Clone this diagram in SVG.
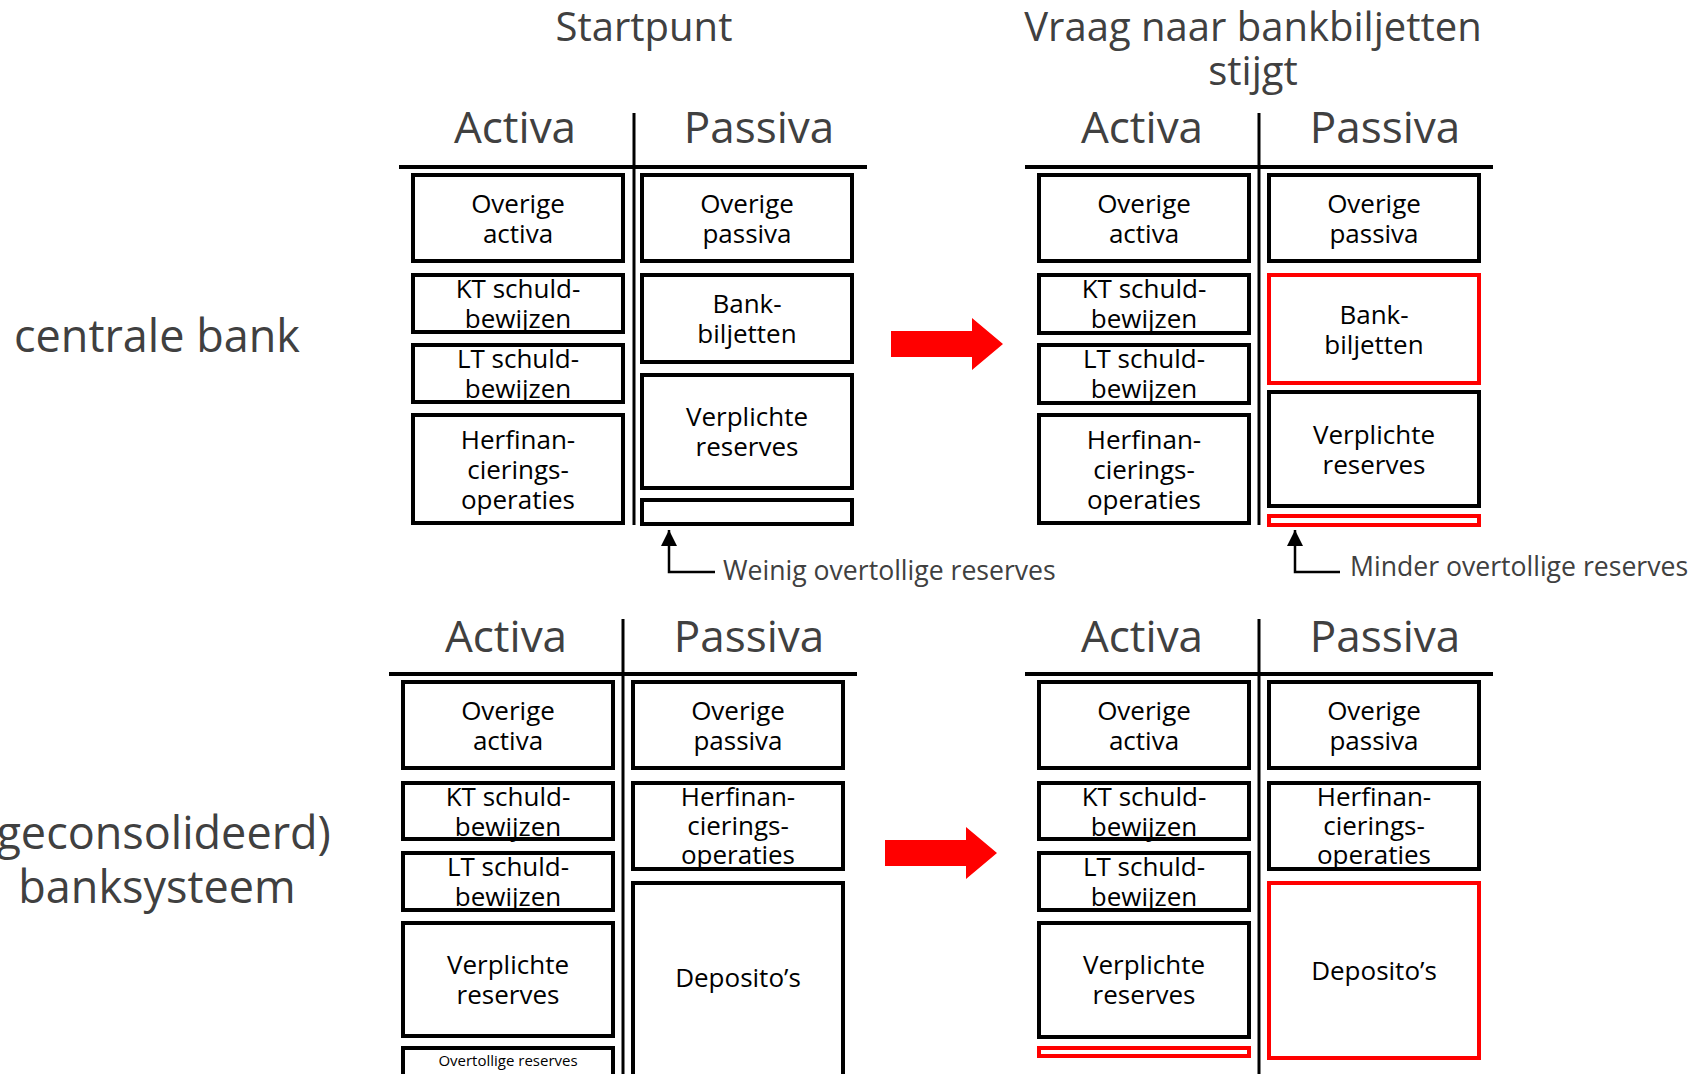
<svg xmlns="http://www.w3.org/2000/svg" width="1688" height="1074" viewBox="0 0 1688 1074">
<defs>
<style>
text{font-family:"Open Sans","Noto Sans","DejaVu Sans",sans-serif;}
.box{fill:#fff;stroke:#000;stroke-width:4;}
.red{fill:#fff;stroke:#ff0000;stroke-width:4;}
.bt{font-size:26px;fill:#000;text-anchor:middle;}
.hd{font-size:44px;fill:#404040;text-anchor:middle;}
.tt{font-size:40px;fill:#404040;text-anchor:middle;}
.lb{font-size:45px;fill:#404040;text-anchor:middle;}
.nt{font-size:26.6px;fill:#404040;}
.sm{font-size:15px;fill:#000;text-anchor:middle;}
.vl{stroke:#000;stroke-width:3;}
.hl{stroke:#000;stroke-width:4;}
.cn{fill:none;stroke:#000;stroke-width:2.5;}
.ra{fill:#ff0000;}
</style>
<marker id="ah" viewBox="0 0 16 16" refX="16" refY="8" markerWidth="16" markerHeight="16" markerUnits="userSpaceOnUse" orient="auto"><path d="M0,0 L16,8 L0,16 z" fill="#000"/></marker>
</defs>
<rect width="1688" height="1074" fill="#fff"/>

<g id="titles">
<text class="tt" x="644" y="41">Startpunt</text>
<text class="tt" x="1253" y="41">Vraag naar bankbiljetten</text>
<text class="tt" x="1253" y="85">stijgt</text>
<text class="lb" x="157" y="352">centrale bank</text>
<text class="lb" x="157" y="849">(geconsolideerd)</text>
<text class="lb" x="157" y="903">banksysteem</text>
</g>

<g id="frame-tl">
<text class="hd" x="515" y="143">Activa</text>
<text class="hd" x="759" y="143">Passiva</text>
<line class="vl" x1="634" y1="113" x2="634" y2="525"/>
<line class="hl" x1="399" y1="167" x2="867" y2="167"/>
</g>
<g id="frame-tr">
<text class="hd" x="1142" y="143">Activa</text>
<text class="hd" x="1385" y="143">Passiva</text>
<line class="vl" x1="1259" y1="113" x2="1259" y2="525"/>
<line class="hl" x1="1025" y1="167" x2="1493" y2="167"/>
</g>
<g id="frame-bl">
<text class="hd" x="506" y="652">Activa</text>
<text class="hd" x="749" y="652">Passiva</text>
<line class="vl" x1="623" y1="619" x2="623" y2="1074"/>
<line class="hl" x1="389" y1="674" x2="857" y2="674"/>
</g>
<g id="frame-br">
<text class="hd" x="1142" y="652">Activa</text>
<text class="hd" x="1385" y="652">Passiva</text>
<line class="vl" x1="1259" y1="619" x2="1259" y2="1074"/>
<line class="hl" x1="1025" y1="674" x2="1493" y2="674"/>
</g>

<!-- Top-left: centrale bank, startpunt -->
<g id="tl-overige-activa"><rect class="box" x="413" y="175" width="210" height="86"/><text class="bt" x="518" y="212.5">Overige</text><text class="bt" x="518" y="242.5">activa</text></g>
<g id="tl-kt"><rect class="box" x="413" y="275" width="210" height="57"/><text class="bt" x="518" y="298">KT schuld-</text><text class="bt" x="518" y="328">bewijzen</text></g>
<g id="tl-lt"><rect class="box" x="413" y="345" width="210" height="57"/><text class="bt" x="518" y="368">LT schuld-</text><text class="bt" x="518" y="398">bewijzen</text></g>
<g id="tl-herfin"><rect class="box" x="413" y="415" width="210" height="108"/><text class="bt" x="518" y="448.5">Herfinan-</text><text class="bt" x="518" y="478.5">cierings-</text><text class="bt" x="518" y="508.5">operaties</text></g>
<g id="tl-overige-passiva"><rect class="box" x="642" y="175" width="210" height="86"/><text class="bt" x="747" y="212.5">Overige</text><text class="bt" x="747" y="242.5">passiva</text></g>
<g id="tl-bankbiljetten"><rect class="box" x="642" y="275" width="210" height="87"/><text class="bt" x="747" y="313">Bank-</text><text class="bt" x="747" y="343">biljetten</text></g>
<g id="tl-verplichte"><rect class="box" x="642" y="375" width="210" height="113"/><text class="bt" x="747" y="426">Verplichte</text><text class="bt" x="747" y="456">reserves</text></g>
<g id="tl-overtollig"><rect class="box" x="642" y="500" width="210" height="24"/></g>

<!-- Top-right -->
<g id="tr-overige-activa"><rect class="box" x="1039" y="175" width="210" height="86"/><text class="bt" x="1144" y="212.5">Overige</text><text class="bt" x="1144" y="242.5">activa</text></g>
<g id="tr-kt"><rect class="box" x="1039" y="275" width="210" height="58"/><text class="bt" x="1144" y="298">KT schuld-</text><text class="bt" x="1144" y="328">bewijzen</text></g>
<g id="tr-lt"><rect class="box" x="1039" y="345" width="210" height="58"/><text class="bt" x="1144" y="368">LT schuld-</text><text class="bt" x="1144" y="398">bewijzen</text></g>
<g id="tr-herfin"><rect class="box" x="1039" y="415" width="210" height="108"/><text class="bt" x="1144" y="448.5">Herfinan-</text><text class="bt" x="1144" y="478.5">cierings-</text><text class="bt" x="1144" y="508.5">operaties</text></g>
<g id="tr-overige-passiva"><rect class="box" x="1269" y="175" width="210" height="86"/><text class="bt" x="1374" y="212.5">Overige</text><text class="bt" x="1374" y="242.5">passiva</text></g>
<g id="tr-bankbiljetten"><rect class="red" x="1269" y="275" width="210" height="108"/><text class="bt" x="1374" y="323.5">Bank-</text><text class="bt" x="1374" y="353.5">biljetten</text></g>
<g id="tr-verplichte"><rect class="box" x="1269" y="392" width="210" height="114"/><text class="bt" x="1374" y="443.5">Verplichte</text><text class="bt" x="1374" y="473.5">reserves</text></g>
<g id="tr-overtollig"><rect class="red" x="1269" y="516" width="210" height="9"/></g>

<!-- Bottom-left -->
<g id="bl-overige-activa"><rect class="box" x="403" y="682" width="210" height="86"/><text class="bt" x="508" y="719.5">Overige</text><text class="bt" x="508" y="749.5">activa</text></g>
<g id="bl-kt"><rect class="box" x="403" y="783" width="210" height="56"/><text class="bt" x="508" y="805.5">KT schuld-</text><text class="bt" x="508" y="835.5">bewijzen</text></g>
<g id="bl-lt"><rect class="box" x="403" y="853" width="210" height="57"/><text class="bt" x="508" y="876">LT schuld-</text><text class="bt" x="508" y="906">bewijzen</text></g>
<g id="bl-verplichte"><rect class="box" x="403" y="923" width="210" height="113"/><text class="bt" x="508" y="974">Verplichte</text><text class="bt" x="508" y="1004">reserves</text></g>
<g id="bl-overtollig"><rect class="box" x="403" y="1048" width="210" height="40"/><text class="sm" x="508" y="1066">Overtollige reserves</text></g>
<g id="bl-overige-passiva"><rect class="box" x="633" y="682" width="210" height="86"/><text class="bt" x="738" y="719.5">Overige</text><text class="bt" x="738" y="749.5">passiva</text></g>
<g id="bl-herfin"><rect class="box" x="633" y="783" width="210" height="86"/><text class="bt" x="738" y="806">Herfinan-</text><text class="bt" x="738" y="835">cierings-</text><text class="bt" x="738" y="864">operaties</text></g>
<g id="bl-deposito"><rect class="box" x="633" y="883" width="210" height="205"/><text class="bt" x="738" y="987">Deposito’s</text></g>

<!-- Bottom-right -->
<g id="br-overige-activa"><rect class="box" x="1039" y="682" width="210" height="86"/><text class="bt" x="1144" y="719.5">Overige</text><text class="bt" x="1144" y="749.5">activa</text></g>
<g id="br-kt"><rect class="box" x="1039" y="783" width="210" height="56"/><text class="bt" x="1144" y="805.5">KT schuld-</text><text class="bt" x="1144" y="835.5">bewijzen</text></g>
<g id="br-lt"><rect class="box" x="1039" y="853" width="210" height="57"/><text class="bt" x="1144" y="876">LT schuld-</text><text class="bt" x="1144" y="906">bewijzen</text></g>
<g id="br-verplichte"><rect class="box" x="1039" y="923" width="210" height="114"/><text class="bt" x="1144" y="974">Verplichte</text><text class="bt" x="1144" y="1004">reserves</text></g>
<g id="br-overtollig"><rect class="red" x="1039" y="1048" width="210" height="8"/></g>
<g id="br-overige-passiva"><rect class="box" x="1269" y="682" width="210" height="86"/><text class="bt" x="1374" y="719.5">Overige</text><text class="bt" x="1374" y="749.5">passiva</text></g>
<g id="br-herfin"><rect class="box" x="1269" y="783" width="210" height="86"/><text class="bt" x="1374" y="806">Herfinan-</text><text class="bt" x="1374" y="835">cierings-</text><text class="bt" x="1374" y="864">operaties</text></g>
<g id="br-deposito"><rect class="red" x="1269" y="883" width="210" height="175"/><text class="bt" x="1374" y="980">Deposito’s</text></g>

<g id="connectors">
<path class="cn" d="M715,572 H669 V530" marker-end="url(#ah)"/>
<path class="cn" d="M1340,572 H1295 V530" marker-end="url(#ah)"/>
<polygon class="ra" points="891,331 972,331 972,318 1003,344 972,370 972,357 891,357"/>
<polygon class="ra" points="885,840 966,840 966,827 997,853 966,879 966,866 885,866"/>
</g>

<g id="notes">
<text class="nt" x="723" y="580">Weinig overtollige reserves</text>
<text class="nt" x="1350" y="576">Minder overtollige reserves</text>
</g>
</svg>
